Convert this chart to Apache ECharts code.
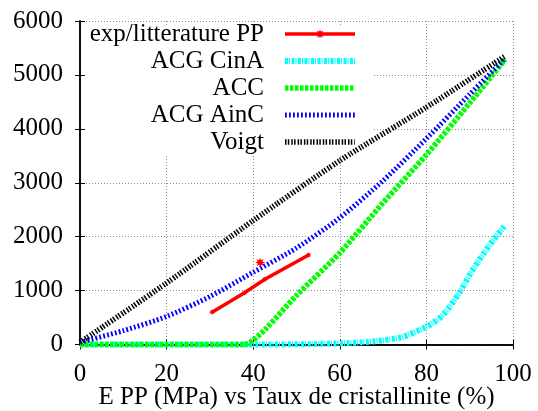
<!DOCTYPE html>
<html>
<head>
<meta charset="utf-8">
<script src="https://cdn.jsdelivr.net/npm/echarts@6/dist/echarts.min.js"></script>
<style>
html,body{margin:0;padding:0;background:#fff;}
#chart{width:538px;height:411px;}
</style>
</head>
<body>
<div id="chart"></div>
<script>
// ---- data ----
var xTicks = [0, 20, 40, 60, 80, 100];
var yTicks = [0, 1000, 2000, 3000, 4000, 5000, 6000];

var seriesNames = ['exp/litterature PP', 'ACG CinA', 'ACC', 'ACG AinC', 'Voigt'];

var expX = [30.5, 38, 42.7, 52.8];
var expY = [600, 960, 1210, 1660];
var expExtraX = [41.6];
var expExtraY = [1520];

var cinaX = [0, 40, 55, 65, 74, 79.5, 82.6, 85, 88, 90.2, 93.3, 95.6, 98];
var cinaY = [0, 0, 10, 40, 130, 310, 460, 660, 1010, 1320, 1700, 1950, 2190];

var accX = [0, 20, 38, 40, 43, 50, 60, 70, 80, 90, 98.2];
var accY = [0, 0, 0, 80, 300, 910, 1700, 2630, 3520, 4480, 5290];

var aincX = [0, 10, 20, 30, 40, 50, 60, 70, 80, 90, 98.2];
var aincY = [40, 256, 520, 890, 1340, 1790, 2350, 3040, 3820, 4640, 5310];

var voigtX = [0, 20, 40, 60, 80, 98];
var voigtY = [40, 1140, 2300, 3410, 4400, 5340];

function pairs(xs, ys) { return xs.map(function (x, i) { return [x, ys[i]]; }); }

// 8-pointed star symbol (gnuplot-like asterisk marker)
function starPath() {
  var pts = [];
  for (var i = 0; i < 16; i++) {
    var a = Math.PI * i / 8;
    var r = (i % 2 === 0) ? 10 : 5;
    pts.push((10 + r * Math.cos(a)).toFixed(2) + ' ' + (10 + r * Math.sin(a)).toFixed(2));
  }
  return 'path://M' + pts.join(' L') + ' Z';
}
var STAR = starPath();

var FONT = 'Liberation Serif';

var styles = {
  exp:   {color: '#ff0000', width: 3.5, type: 'solid'},
  cina:  {color: '#00ffff', width: 6, type: [3, 1, 1, 1.5]},
  acc:   {color: '#00ff00', width: 5.5, type: [3.5, 1.5]},
  ainc:  {color: '#0000ff', width: 5, type: [1.8, 2.2]},
  voigt: {color: '#000000', width: 5.5, type: [1.5, 1.3, 1.5, 2]}
};

var chart = echarts.init(document.getElementById('chart'), null, {renderer: 'canvas'});

var axisCommonX = {
  type: 'value', min: xTicks[0], max: xTicks[xTicks.length - 1], interval: xTicks[1] - xTicks[0]
};
var axisCommonY = {
  type: 'value', min: yTicks[0], max: yTicks[yTicks.length - 1], interval: yTicks[1] - yTicks[0]
};

function legendItem(name, st, showSym) {
  return {
    name: name,
    itemStyle: showSym ? {color: st.color} : {opacity: 0},
    lineStyle: {color: st.color, width: st.width, type: st.type}
  };
}

var option = {
  animation: false,
  backgroundColor: '#ffffff',
  grid: {left: 80, right: 25, top: 21, bottom: 66.5, containLabel: false, outerBoundsMode: 'none'},
  graphic: [{
    type: 'rect', z: 1, silent: true,
    shape: {x: 86, y: 27, width: 288, height: 128},
    style: {fill: '#ffffff'}
  }],
  legend: {
    orient: 'vertical', right: 180, top: 20.5, align: 'right',
    itemWidth: 70, itemHeight: 12, itemGap: 0, padding: 0,
    textStyle: {fontFamily: FONT, fontSize: 25, color: '#000', lineHeight: 27, padding: [0, 16, 0, 0]},
    data: [
      legendItem(seriesNames[0], styles.exp, true),
      legendItem(seriesNames[1], styles.cina, false),
      legendItem(seriesNames[2], styles.acc, false),
      legendItem(seriesNames[3], styles.ainc, false),
      legendItem(seriesNames[4], styles.voigt, false)
    ]
  },
  xAxis: [
    Object.assign({}, axisCommonX, {
      position: 'bottom',
      name: 'E PP (MPa) vs Taux de cristallinite (%)',
      nameLocation: 'middle', nameGap: 40, nameMoveOverlap: false,
      nameTextStyle: {fontFamily: FONT, fontSize: 25, color: '#000'},
      axisLine: {show: true, lineStyle: {color: '#000', width: 1.5}},
      axisTick: {show: true, inside: true, length: 5, lineStyle: {color: '#000', width: 1}},
      axisLabel: {fontFamily: FONT, fontSize: 25, color: '#000', margin: 17},
      splitLine: {show: true, lineStyle: {color: '#909090', width: 1, type: [1, 2]}}
    }),
    Object.assign({}, axisCommonX, {
      position: 'top',
      axisLine: {show: true, lineStyle: {color: '#000', width: 1.5}},
      axisTick: {show: true, inside: true, length: 5, lineStyle: {color: '#000', width: 1}},
      axisLabel: {show: false},
      splitLine: {show: false}
    })
  ],
  yAxis: [
    Object.assign({}, axisCommonY, {
      position: 'left',
      axisLine: {show: true, lineStyle: {color: '#000', width: 1.5}},
      axisTick: {show: true, inside: true, length: 5, lineStyle: {color: '#000', width: 1}},
      axisLabel: {fontFamily: FONT, fontSize: 25, color: '#000', margin: 17,
                  formatter: function (v) { return String(v); }},
      splitLine: {show: true, lineStyle: {color: '#909090', width: 1, type: [1, 2]}}
    }),
    Object.assign({}, axisCommonY, {
      position: 'right',
      axisLine: {show: true, lineStyle: {color: '#000', width: 1.5}},
      axisTick: {show: true, inside: true, length: 5, lineStyle: {color: '#000', width: 1}},
      axisLabel: {show: false},
      splitLine: {show: false}
    })
  ],
  series: [
    {
      name: seriesNames[0], type: 'line', clip: false, z: 6,
      data: pairs(expX, expY),
      symbol: STAR, symbolSize: 6, showSymbol: true,
      lineStyle: {color: styles.exp.color, width: styles.exp.width},
      itemStyle: {color: styles.exp.color}
    },
    {
      name: seriesNames[0], type: 'line', clip: false, z: 6,
      data: pairs(expExtraX, expExtraY),
      symbol: STAR, symbolSize: 10, showSymbol: true,
      lineStyle: {color: styles.exp.color, width: styles.exp.width},
      itemStyle: {color: styles.exp.color}
    },
    {
      name: seriesNames[1], type: 'line', clip: false, symbol: 'none', z: 3,
      smooth: 0.3,
      data: pairs(cinaX, cinaY),
      lineStyle: styles.cina,
      itemStyle: {color: styles.cina.color}
    },
    {
      name: seriesNames[2], type: 'line', clip: false, symbol: 'none', z: 3,
      smooth: 0.25,
      data: pairs(accX, accY),
      lineStyle: styles.acc,
      itemStyle: {color: styles.acc.color}
    },
    {
      name: seriesNames[3], type: 'line', clip: false, symbol: 'none', z: 4,
      smooth: 0.25,
      data: pairs(aincX, aincY),
      lineStyle: styles.ainc,
      itemStyle: {color: styles.ainc.color}
    },
    {
      name: seriesNames[4], type: 'line', clip: false, symbol: 'none', z: 4,
      smooth: 0.25,
      data: pairs(voigtX, voigtY),
      lineStyle: styles.voigt,
      itemStyle: {color: styles.voigt.color}
    }
  ]
};
chart.setOption(option);
</script>
</body>
</html>
